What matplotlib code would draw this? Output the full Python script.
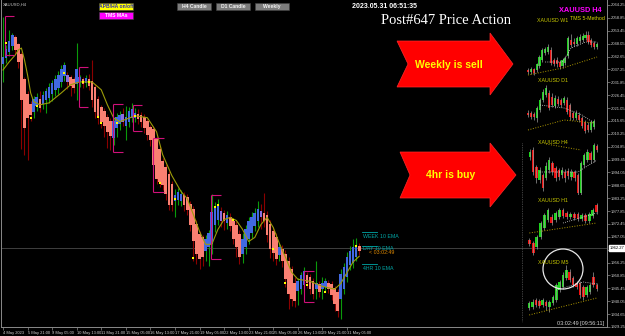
import matplotlib
matplotlib.use("Agg")
import matplotlib.pyplot as plt
from matplotlib.patches import Polygon, Circle, Rectangle
import numpy as np

plt.rcParams["font.family"] = ["Liberation Sans", "DejaVu Sans"]

W, H = 625, 336

# ---- main XAUUSD H4 chart (Heikin-Ashi bars), prices
ha_open = [2039.5, 2042.1, 2044.6, 2047.1, 2050.4, 2047.5, 2043.3, 2032.9, 2026.6, 2022.4,
           2019.5, 2022.0, 2024.5, 2022.8, 2024.5, 2025.3, 2027.0, 2028.7, 2029.5, 2032.0,
           2034.5, 2034.5, 2033.7, 2032.9, 2031.2, 2032.0, 2032.9, 2031.6, 2032.9, 2032.0,
           2029.5, 2024.5, 2021.2, 2019.5, 2017.0, 2015.3, 2008.6, 2012.8, 2014.5, 2018.2,
           2013.6, 2015.3, 2017.0, 2017.0, 2018.2, 2017.8, 2017.0, 2015.3, 2012.8, 2012.0,
           2007.8, 2003.6, 1998.6, 1996.1, 1993.1, 1989.0, 1981.9, 1982.7, 1981.9, 1984.4,
           1983.5, 1980.6, 1978.5, 1972.2, 1968.1, 1966.8, 1961.0, 1962.6, 1963.9, 1972.2,
           1974.3, 1977.7, 1976.8, 1972.7, 1975.2, 1973.5, 1971.8, 1968.1, 1959.7, 1962.6,
           1966.0, 1968.5, 1971.8, 1973.5, 1977.7, 1976.8, 1976.0, 1972.2, 1969.3, 1966.8,
           1959.3, 1961.8, 1959.7, 1956.8, 1953.4, 1947.2, 1944.2, 1945.1, 1946.8, 1950.9,
           1950.1, 1948.4, 1945.1, 1946.8, 1945.1, 1945.9, 1947.6, 1946.8, 1945.1, 1943.8,
           1940.9, 1945.1, 1950.1, 1955.1, 1955.9, 1958.5, 1963.1]
ha_close = [2042.1, 2045.4, 2048.7, 2051.3, 2045.4, 2040.4, 2024.5, 2012.8, 2017.0, 2018.2,
            2024.5, 2025.3, 2021.2, 2026.2, 2027.8, 2029.5, 2031.2, 2032.9, 2034.5, 2037.0,
            2038.7, 2032.0, 2030.4, 2029.5, 2037.0, 2033.7, 2031.2, 2033.3, 2030.4, 2024.5,
            2019.5, 2017.0, 2015.3, 2013.6, 2011.1, 2009.5, 2015.3, 2017.0, 2017.8, 2015.3,
            2017.0, 2019.5, 2020.3, 2018.6, 2016.6, 2015.3, 2012.8, 2009.9, 2007.8, 1997.3,
            1991.1, 1990.2, 1988.6, 1984.8, 1980.6, 1980.2, 1984.4, 1985.6, 1984.8, 1980.6,
            1978.5, 1972.2, 1965.1, 1959.7, 1957.6, 1958.5, 1966.0, 1968.5, 1977.3, 1979.4,
            1980.6, 1973.5, 1973.5, 1976.0, 1971.8, 1966.0, 1962.6, 1958.5, 1966.0, 1970.2,
            1973.5, 1975.2, 1976.8, 1978.5, 1975.2, 1973.5, 1967.7, 1961.8, 1960.1, 1957.6,
            1962.6, 1956.8, 1949.3, 1943.0, 1940.9, 1940.1, 1948.4, 1950.9, 1952.6, 1947.6,
            1945.1, 1943.0, 1947.6, 1943.8, 1947.6, 1948.4, 1945.1, 1942.6, 1938.8, 1935.9,
            1951.3, 1954.3, 1958.5, 1961.0, 1962.6, 1963.5, 1961.0]
ha_high = [2059.2, 2047.5, 2053.8, 2052.5, 2051.5, 2048.5, 2044.5, 2034.0, 2028.0, 2024.0,
           2026.0, 2027.5, 2028.0, 2028.0, 2029.5, 2031.5, 2033.0, 2035.0, 2036.5, 2039.0,
           2040.5, 2036.0, 2035.0, 2034.0, 2048.3, 2035.0, 2034.0, 2035.0, 2035.5, 2041.2,
           2031.0, 2026.0, 2022.5, 2021.0, 2018.5, 2017.0, 2017.0, 2019.0, 2020.0, 2021.0,
           2022.0, 2021.5, 2023.0, 2021.0, 2020.5, 2019.5, 2018.5, 2016.5, 2014.0, 2013.5,
           2009.0, 2005.0, 2000.0, 1997.5, 1994.5, 1990.5, 1986.9, 1987.5, 1986.5, 1986.0,
           1985.0, 1982.0, 1980.0, 1974.0, 1969.5, 1968.0, 1968.0, 1970.0, 1984.8, 1981.5,
           1983.0, 1979.5, 1978.5, 1978.0, 1977.0, 1975.0, 1973.5, 1970.0, 1968.5, 1972.0,
           1975.5, 1977.5, 1979.0, 1981.9, 1981.0, 1985.6, 1978.0, 1974.0, 1971.0, 1968.5,
           1964.5, 1963.5, 1961.5, 1958.5, 1955.0, 1950.1, 1950.0, 1952.5, 1954.5, 1952.5,
           1951.5, 1950.0, 1956.8, 1948.5, 1950.1, 1950.0, 1949.0, 1948.5, 1946.5, 1945.0,
           1953.5, 1956.0, 1960.5, 1963.0, 1966.0, 1966.5, 1964.5]
ha_low = [2032.0, 2040.0, 2043.0, 2045.5, 2043.5, 2038.0, 2004.0, 2001.5, 1999.4, 2015.5,
          2017.0, 2020.0, 2019.5, 2020.5, 2019.0, 2023.0, 2024.0, 2026.0, 2027.0, 2030.0,
          2032.5, 2029.0, 2026.0, 2027.5, 2024.5, 2030.0, 2029.5, 2030.0, 2028.5, 2021.6,
          2017.0, 2014.5, 2012.5, 2009.0, 2004.4, 2003.6, 2005.5, 2009.0, 2012.0, 2013.5,
          2007.8, 2013.0, 2015.0, 2015.0, 2014.5, 2013.0, 2010.5, 2007.5, 2005.0, 1995.0,
          1989.0, 1988.0, 1986.5, 1982.5, 1978.5, 1978.0, 1975.2, 1980.5, 1980.0, 1978.0,
          1976.0, 1969.5, 1957.0, 1955.5, 1953.4, 1955.0, 1957.0, 1955.0, 1960.0, 1969.0,
          1972.0, 1971.0, 1970.0, 1970.5, 1969.5, 1964.0, 1958.5, 1955.5, 1956.0, 1960.0,
          1964.0, 1966.5, 1969.5, 1971.0, 1970.5, 1971.0, 1965.0, 1958.0, 1957.0, 1955.1,
          1957.0, 1954.5, 1946.0, 1936.8, 1938.0, 1937.5, 1938.4, 1943.0, 1945.0, 1945.5,
          1943.0, 1941.0, 1941.0, 1942.0, 1940.9, 1944.0, 1943.5, 1940.5, 1936.0, 1933.5,
          1932.6, 1943.0, 1948.0, 1953.0, 1954.0, 1957.0, 1959.5]
purple_bars = [21, 39, 71, 84]

ma_idx = [0, 2, 4, 5, 6, 7, 8, 9, 10, 12, 15, 19, 22, 25, 29, 32, 34, 36, 38, 43, 47, 50, 52,
          55, 58, 60, 62, 64, 66, 68, 70, 72, 74, 76, 78, 80, 82, 84, 86, 88, 90, 92, 94, 96,
          100, 104, 108, 110, 112, 114, 116]
ma_val = [2037.0, 2040.4, 2043.3, 2045.4, 2046.2, 2041.2, 2034.9, 2027.4, 2023.7, 2022.4,
          2023.2, 2027.4, 2030.8, 2032.0, 2032.0, 2028.7, 2022.4, 2017.0, 2015.3, 2017.8,
          2017.0, 2011.1, 2001.5, 1992.7, 1986.0, 1983.1, 1976.4, 1969.3, 1963.9, 1963.9,
          1970.2, 1974.3, 1975.2, 1973.9, 1970.2, 1965.1, 1966.8, 1972.2, 1975.2, 1971.0,
          1964.3, 1958.5, 1952.2, 1949.3, 1948.4, 1946.3, 1945.1, 1947.5, 1952.0, 1956.5, 1958.9]

dot_idx = [1, 9, 11, 20, 26, 28, 31, 32, 37, 43, 51, 56, 62, 69, 70, 75, 88, 92, 99, 105, 115]
dot_val = [2048.3, 2017.0, 2022.0, 2035.8, 2032.0, 2032.0, 2017.4, 2014.9, 2014.9, 2017.8,
           1989.8, 1983.1, 1958.1, 1979.4, 1980.2, 1973.9, 1961.8, 1947.6, 1946.8, 1943.8, 1963.1]

box_left = [0.6, 24.8, 35.9, 42.2, 49.0, 67.6, 98.0]
box_right = [3.6, 27.8, 39.2, 45.4, 52.3, 70.9, 101.3]
box_top = [2059.6, 2038.3, 2022.8, 2022.4, 2008.6, 1984.4, 1952.6]
box_bottom = [2043.3, 2021.6, 2002.8, 2011.5, 1986.0, 1957.6, 1939.6]

price_levels = [1929.25 + 5.4 * k for k in range(26)]
current_price = 1962.27
time_tick_idx = list(range(0, 113, 8))
time_labels = ["4 May 2023", "5 May 21:00", "9 May 05:00", "10 May 13:00", "11 May 21:00",
               "15 May 05:00", "16 May 13:00", "17 May 21:00", "19 May 05:00", "22 May 13:00",
               "23 May 21:00", "25 May 05:00", "26 May 13:00", "29 May 21:00", "31 May 05:00"]

# ---- small multi-timeframe panels (relative price units, bottom = 0)
w1_o = [7, 5, 8, 7, 11, 17, 24, 25, 27, 17, 17, 15, 11, 14, 21, 37, 35, 33, 36, 37, 39, 42, 37, 34, 30]
w1_c = [5, 8, 4, 13, 20, 27, 28, 30, 14, 13, 13, 10, 17, 19, 39, 32, 33, 39, 40, 41, 42, 35, 32, 30, 33]
w1_h = [9, 10, 9, 14, 22, 29, 30, 33, 30, 19, 20, 17, 19, 21, 41, 43, 39, 41, 43, 44, 46, 46, 39, 36, 35]
w1_l = [3, 3, 2, 5, 9, 15, 22, 23, 12, 11, 10, 8, 9, 12, 19, 30, 31, 31, 34, 35, 37, 33, 30, 28, 28]
w1_ma = ([6, 12, 15, 20, 24], [15, 15, 29, 35, 35])
w1_trend = ([0, 12, 24], [2, 9, 20])

d1_o = [22, 22, 21, 17, 25, 35, 40, 42, 38, 29, 36, 35, 32, 35, 30, 22, 17, 20, 17, 13, 10, 5, 8]
d1_c = [20, 18, 18, 27, 35, 43, 47, 27, 30, 37, 31, 30, 37, 23, 18, 17, 22, 15, 9, 4, 5, 13, 14]
d1_h = [25, 24, 23, 29, 37, 46, 50, 45, 42, 40, 39, 37, 39, 38, 32, 24, 25, 23, 19, 15, 13, 15, 16]
d1_l = [18, 16, 15, 13, 23, 33, 38, 25, 28, 27, 29, 28, 30, 21, 15, 15, 15, 13, 7, 2, 3, 3, 6]
d1_ma = ([4, 12, 18, 22], [30, 27, 20, 12])
d1_trend = ([0, 12, 22], [5, 15, 12])

h4_o = [38, 45, 28, 15, 20, 17, 25, 32, 27, 25, 20, 23, 24, 18, 23, 20, 2, 30, 35, 42, 35, 49]
h4_c = [43, 23, 17, 25, 7, 29, 35, 23, 17, 18, 25, 17, 19, 23, 17, 2, 32, 40, 43, 35, 50, 45]
h4_h = [46, 48, 30, 28, 22, 33, 38, 34, 29, 27, 28, 26, 27, 26, 25, 22, 34, 42, 46, 44, 52, 51]
h4_l = [35, 20, 12, 12, 4, 15, 22, 20, 14, 15, 17, 13, 16, 15, 14, 0, 0, 28, 33, 32, 33, 43]
h4_ma = ([3, 15, 21], [23, 23, 35])
h4_trend = ([5, 16], [51, 45])

h1_o = [18, 15, 11, 21, 30, 38, 41, 38, 41, 48, 45, 41, 44, 44, 39, 43, 37, 42, 53]
h1_c = [14, 5, 21, 35, 43, 48, 35, 45, 48, 42, 41, 44, 40, 39, 43, 37, 44, 48, 46]
h1_h = [20, 17, 23, 37, 45, 50, 44, 47, 50, 50, 47, 46, 46, 46, 45, 45, 46, 50, 55]
h1_l = [12, 3, 9, 19, 28, 36, 33, 36, 39, 40, 39, 39, 38, 37, 37, 35, 35, 40, 44]
h1_ma = ([9, 18], [35, 45])
h1_trend = ([0, 18], [25, 35])

m5_o = [14, 15, 22, 21, 17, 20, 15, 19, 22, 32, 35, 44, 50, 44, 39, 39, 35, 27, 30, 45, 37]
m5_c = [19, 20, 17, 16, 22, 16, 20, 25, 37, 40, 47, 52, 42, 37, 35, 27, 25, 35, 37, 37, 33]
m5_h = [21, 23, 24, 23, 24, 22, 22, 27, 39, 42, 50, 57, 53, 46, 41, 41, 37, 37, 39, 50, 39]
m5_l = [12, 13, 15, 14, 15, 12, 10, 17, 20, 30, 33, 42, 40, 35, 33, 24, 22, 25, 28, 35, 31]
m5_ma = ([8, 16, 20], [32, 40, 38])
m5_trend = ([0, 20], [7, 24])


def px_rect(x0, y0, x1, y1):
    return [x0 / W, 1 - y1 / H, (x1 - x0) / W, (y1 - y0) / H]


fig = plt.figure(figsize=(W / 100, H / 100), dpi=100, facecolor="black")

# main chart
ax = fig.add_axes(px_rect(1, 0, 607, 327))
ax.set_facecolor("black")
o = np.array(ha_open)
c = np.array(ha_close)
x = np.arange(len(o))
up = c >= o
body_col = np.where(up, "#4169e1", "#fa8072").astype(object)
body_col[purple_bars] = "#8a6fe0"
ax.vlines(x, ha_low, ha_high, colors=np.where(up, "#0a9a0a", "#8b0000"), lw=0.8, zorder=2)
ax.bar(x, np.abs(c - o) + 0.3, bottom=np.minimum(o, c), width=0.85,
       color=list(body_col), lw=0, zorder=3)
ax.plot(ma_idx, ma_val, color="#9c9c08", lw=0.8, zorder=4)
ax.plot(dot_idx, dot_val, "s", color="#ffff00", ms=1.6, mew=0, zorder=5)
for bl, br, bt, bb in zip(box_left, box_right, box_top, box_bottom):
    ax.hlines([bt, bb], bl, br, color="#d0107a", lw=0.8, zorder=4)
    ax.vlines(bl, bb, bt, color="#d0107a", lw=0.8, zorder=4)
ax.axhline(current_price, color="#4a4a4a", lw=0.6, zorder=1)

ax.set_xlim(-0.65, 196.7)
ax.set_ylim(1929.65, 2066.34)
for side in ["left", "bottom", "right"]:
    ax.spines[side].set_color("#8a8a8a")
    ax.spines[side].set_linewidth(0.7)
ax.spines["top"].set_visible(False)
ax.yaxis.tick_right()
ax.set_yticks(price_levels)
# the label under the current-price tag is hidden, as in the terminal
ax.set_yticklabels(["" if abs(p - current_price) < 2.7 else "%.2f" % p for p in price_levels])
ax.tick_params(axis="y", colors="#8a8a8a", labelcolor="#d0d0d0", labelsize=3.0,
               length=2, width=0.5, pad=1)
ax.set_xticks(time_tick_idx)
ax.set_xticklabels(time_labels)
ax.tick_params(axis="x", colors="#8a8a8a", labelcolor="#d0d0d0", labelsize=2.9,
               length=2, width=0.5, pad=1)
for lbl in ax.get_xticklabels():
    lbl.set_ha("left")
ax.text(1.005, current_price, "%.2f" % current_price, transform=ax.get_yaxis_transform(),
        fontsize=3.0, color="black", va="center", ha="left", zorder=10,
        bbox=dict(boxstyle="square,pad=0.3", fc="white", ec="white"))


def mini_panel(rect, po, pc, ph, pl, ma, trend):
    mx = fig.add_axes(px_rect(*rect))
    mx.set_facecolor("none")
    mx.axis("off")
    po = np.array(po)
    pc = np.array(pc)
    i = np.arange(len(po))
    rising = pc >= po
    mx.vlines(i, pl, ph, colors="#9a9a9a", lw=0.5)
    mx.bar(i, np.abs(pc - po) + 0.4, bottom=np.minimum(po, pc), width=0.75,
           color=np.where(rising, "#1ed21e", "#ee1010"), lw=0)
    mx.plot(ma[0], ma[1], ls=(0, (1, 1.6)), color="#d8d8d8", lw=0.6)
    mx.plot(trend[0], trend[1], ls=(0, (1, 1.6)), color="#b09a00", lw=0.7)
    mx.set_xlim(-0.5, len(po) - 0.5)
    mx.set_ylim(0, rect[3] - rect[1])


mini_panel((526.5, 30, 598.5, 77), w1_o, w1_c, w1_h, w1_l, w1_ma, w1_trend)
mini_panel((526.5, 85, 595.5, 135), d1_o, d1_c, d1_h, d1_l, d1_ma, d1_trend)
mini_panel((528.5, 143, 598.5, 195), h4_o, h4_c, h4_h, h4_l, h4_ma, h4_trend)
mini_panel((527.5, 200, 598.5, 258), h1_o, h1_c, h1_h, h1_l, h1_ma, h1_trend)
mini_panel((527.5, 265, 598.5, 322), m5_o, m5_c, m5_h, m5_l, m5_ma, m5_trend)

# overlay in pixel coordinates for the screen furniture
ov = fig.add_axes([0, 0, 1, 1], zorder=20)
ov.set_xlim(0, W)
ov.set_ylim(H, 0)
ov.axis("off")
ov.patch.set_alpha(0)

ov.text(3, 4.5, "XAUUSD,H4", fontsize=3.0, color="#c8c8c8", va="center")


def button(x0, y0, x1, y1, face, label, tcol):
    ov.add_patch(Rectangle((x0, y0), x1 - x0, y1 - y0, fc=face, ec="#404040", lw=0.4))
    ov.text((x0 + x1) / 2, (y0 + y1) / 2 + 0.3, label, fontsize=3.6, color=tcol,
            ha="center", va="center", fontweight="bold")


button(99, 2.5, 133, 9.5, "#ffff00", "APB/HA on/off", "#3030b0")
button(99, 11.5, 133, 18.5, "#ff00ff", "TMS MAs", "#ffffff")
button(177, 2.5, 211, 9.5, "#7c7c7c", "H4 Candle", "#f0f0f0")
button(216, 2.5, 250, 9.5, "#7c7c7c", "D1 Candle", "#f0f0f0")
button(255, 2.5, 289, 9.5, "#7c7c7c", "Weekly", "#f0f0f0")

ov.text(384, 6, "2023.05.31 06:51:35", fontsize=5, color="white", fontweight="bold",
        ha="center", va="center")
ov.text(446, 21, "Post#647 Price Action", family="Liberation Serif", fontsize=10.5,
        color="white", ha="center", va="center")
ov.text(602, 10, "XAUUSD H4", color="#ff00ff", fontweight="bold", fontsize=5.3,
        ha="right", va="center")
ov.text(605, 18, "TMS 5-Method", color="#d8d800", fontsize=3.8, ha="right", va="center")

arrow_specs = [(397, 408, 41, 87, 33, 95, 490, 513, "Weekly is sell", 449),
               (400, 410, 152, 198, 143, 207, 490, 516, "4hr is buy", 451)]
for xl, xn, bt, bb, hd_t, hd_b, xh, xt, label, tx in arrow_specs:
    ym = (bt + bb) / 2
    pts = [(xl, bt), (xh, bt), (xh, hd_t), (xt, ym), (xh, hd_b), (xh, bb), (xl, bb), (xn, ym)]
    ov.add_patch(Polygon(pts, closed=True, fc="#ff0000", ec="#ff2a2a", lw=0.5))
    ov.text(tx, ym + 0.5, label, color="#ffff00", fontweight="bold", fontsize=7.5,
            ha="center", va="center")

for ty, name in [(21, "XAUUSD W1"), (81, "XAUUSD D1"), (142, "XAUUSD H4"),
                 (200, "XAUUSD H1"), (262, "XAUUSD M5")]:
    ov.text(553, ty, name, color="#c8c800", fontsize=3.8, ha="center", va="center")

ov.plot([521.5, 521.5], [143, 322], ls=(0, (1, 1.5)), color="#7a7a7a", lw=0.5)
ov.add_patch(Circle((563, 269), 20, fill=False, ec="#e8e8e8", lw=0.9))

for ly, ty, name in [(232, 236, "WEEK 10 EMA"), (246, 249, "DAY 10 EMA"), (264, 268, "4HR 10 EMA")]:
    ov.plot([362, 377], [ly, ly], color="#00a8a8", lw=0.6)
    ov.text(363, ty, name, color="#00a8a8", fontsize=3.8, ha="left", va="center")
ov.text(369, 253, "< 03:02:49", color="#e08a00", fontsize=3.8, ha="left", va="center")
ov.text(604, 323.5, "03:02:49 [09:56:11]", color="#d0d0d0", fontsize=4.0, ha="right", va="center")

fig.savefig("out.png", dpi=100, facecolor="black")
